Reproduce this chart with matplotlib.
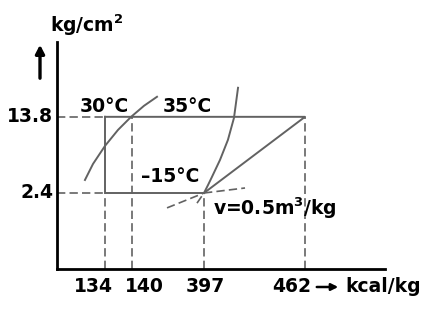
import numpy as np
import matplotlib
matplotlib.use("Agg")
import matplotlib.pyplot as plt

# p-h diagram of the refrigeration cycle (schematic)
h_ticks = [134, 140, 397, 462]          # kcal/kg
p_ticks = [2.4, 13.8]                   # kg/cm2

# refrigeration cycle: 134 -> 397 (evaporation), 397 -> 462 (compression), 462 -> 134
h_cycle = [134, 134, 397, 462, 134]
p_cycle = [13.8, 2.4, 2.4, 13.8, 13.8]

# saturated liquid line
h_liq = [119.8, 125.5, 134, 136.9, 139.8, 182.8, 229.2]
p_liq = [4.35, 6.75, 9.45, 11.85, 13.8, 15.45, 16.8]

# saturated vapour line
h_vap = [372, 397, 399.6, 402.1, 407.3, 412.4, 416.3, 418.9]
p_vap = [2.08, 2.4, 3.6, 4.8, 7.35, 10.35, 13.65, 18.15]

# -15 C isotherm and v=0.5 isochore near the compressor inlet
h_iso_t = [397, 423.4]
p_iso_t = [2.4, 3.15]
h_iso_v = [265, 397]
p_iso_v = [1.93, 2.4]

W, H = 440, 310
GRAY = "#626262"
DASH = (0, (5, 2.5))
FONT = dict(family="DejaVu Sans", fontweight="bold", fontsize=13.5)

# schematic (non linear) scales of the original sketch
hx_v = [100, 134, 140, 397, 462, 520]
hx_p = [57, 105, 132, 204, 305, 385]
py_v = [0, 2.4, 25]
py_p = [41, 117, 268]


def fwd_x(x):
    return np.interp(x, hx_v, hx_p)


def inv_x(x):
    return np.interp(x, hx_p, hx_v)


def fwd_y(y):
    return np.interp(y, py_v, py_p)


def inv_y(y):
    return np.interp(y, py_p, py_v)


def px(x, y):
    return x / W, 1 - y / H


fig = plt.figure(figsize=(W / 100, H / 100), dpi=100)
ax = fig.add_axes([57 / W, 41 / H, 328 / W, 227 / H])
ax.set_xscale("function", functions=(fwd_x, inv_x))
ax.set_yscale("function", functions=(fwd_y, inv_y))
ax.set_xlim(100, 520)
ax.set_ylim(0, 25)

for s in ["top", "right"]:
    ax.spines[s].set_visible(False)
for s in ["left", "bottom"]:
    ax.spines[s].set_linewidth(2)
    ax.spines[s].set_color("black")
ax.set_xticks([])
ax.set_yticks([])

# guide lines
x0 = ax.get_xlim()[0]
for p in p_ticks:
    ax.plot([x0, h_cycle[0]], [p, p], color=GRAY, lw=1.2, ls=DASH)
ax.plot([h_ticks[0], h_ticks[0]], [0, p_ticks[0]], color=GRAY, lw=1.2, ls=DASH)
ax.plot([h_ticks[1], h_ticks[1]], [0, p_ticks[1]], color=GRAY, lw=1.2, ls=DASH)
ax.plot([h_ticks[2], h_ticks[2]], [0, p_ticks[0]], color=GRAY, lw=1.2, ls=DASH)
ax.plot([h_ticks[3], h_ticks[3]], [0, p_ticks[1]], color=GRAY, lw=1.2, ls=DASH)

# cycle and saturation curves
ax.plot(h_cycle, p_cycle, color=GRAY, lw=1.4)
ax.plot(h_liq, p_liq, color=GRAY, lw=1.4)
ax.plot(h_vap[1:], p_vap[1:], color=GRAY, lw=1.4)
ax.plot(h_vap[:2], p_vap[:2], color=GRAY, lw=1.2, ls=DASH)
ax.plot(h_iso_t, p_iso_t, color=GRAY, lw=1.2, ls=DASH)
ax.plot(h_iso_v, p_iso_v, color=GRAY, lw=1.2, ls=DASH)

# tick labels
x_off = [-12, 12, 1, -13]
for h, dx in zip(h_ticks, x_off):
    ax.annotate(str(h), (h, 0), xytext=(dx, -18), textcoords="offset pixels",
                ha="center", va="center", **FONT)
for p in p_ticks:
    ax.annotate(str(p), (x0, p), xytext=(-4, 0), textcoords="offset pixels",
                ha="right", va="center", **FONT)

# axis titles and arrows
fig.text(*px(50, 25), r"kg/cm$^\mathbf{2}$", ha="left", va="center", **FONT)
fig.text(*px(345, 287), "kcal/kg", ha="left", va="center", **FONT)
fig.patches.append(matplotlib.patches.FancyArrowPatch(
    px(40, 81), px(40, 42), transform=fig.transFigure, color="black",
    arrowstyle="-|>,head_length=5,head_width=2.6", lw=2.4))
fig.patches.append(matplotlib.patches.FancyArrowPatch(
    px(314, 287), px(341, 287), transform=fig.transFigure, color="black",
    arrowstyle="-|>,head_length=4,head_width=2", lw=1.8))

# curve labels
fig.text(*px(104, 106), "30°C", ha="center", va="center", **FONT)
fig.text(*px(187, 106), "35°C", ha="center", va="center", **FONT)
fig.text(*px(170, 177), "\u201315°C", ha="center", va="center", **FONT)
fig.text(*px(213, 208), r"v=0.5m$^\mathbf{3}$/kg", ha="left", va="center", **FONT)

fig.savefig("out.png", dpi=100)
